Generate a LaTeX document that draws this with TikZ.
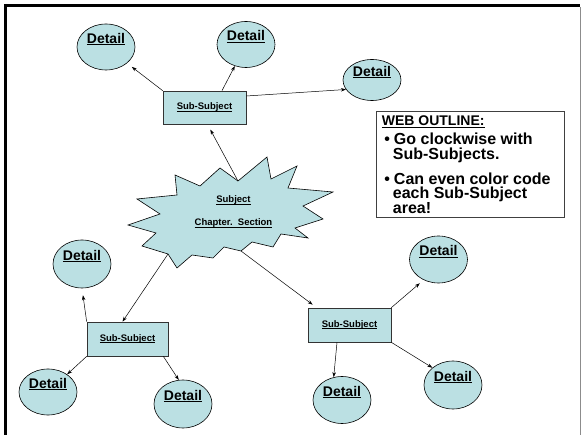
\documentclass[tikz,border=0pt]{standalone}
\usepackage{fontspec}
\setmainfont{Liberation Sans}
\usepackage{tikz}
\usetikzlibrary{shapes.geometric,arrows.meta}
\definecolor{webfill}{RGB}{187,224,227}
\newcommand\undl[1]{\leavevmode\setbox0=\hbox{#1}\rlap{\rule[-0.14em]{\wd0}{0.08em}}\box0}

\begin{document}
\begin{tikzpicture}[x=1pt,y=-1pt,>={Stealth[length=5pt,width=3.5pt]},
    detail/.style={ellipse,draw,fill=webfill,line width=0.6pt,minimum width=58pt,minimum height=46pt,
      inner sep=0pt,text height=10pt,text depth=17pt,font=\fontsize{14}{16}\selectfont\bfseries},
    subsubject/.style={rectangle,draw=black!80,fill=webfill,line width=0.7pt,minimum width=83pt,
      minimum height=33pt,inner sep=0pt,font=\fontsize{9.5}{11}\selectfont\bfseries},
    link/.style={->,line width=0.5pt}]

    \useasboundingbox (0,0) rectangle (581,435);
    % slide frame
    \draw[line width=3pt] (4,5.5) -- (580,5.5);
    \draw[line width=3pt] (5.5,4) -- (5.5,435);
    \draw[black!45,line width=1pt] (580,7) -- (580,435);

    % subject burst
    \draw[fill=webfill,line width=0.6pt] (175,175) -- (200,186) -- (220,168) -- (238,181) -- (267,157)
      -- (271,179) -- (297,166) -- (288,188) -- (333,192) -- (303,206) -- (323,219) -- (295,228)
      -- (308,238) -- (281,234) -- (273,247) -- (252,242) -- (241,251) -- (224,247) -- (213,258)
      -- (192,255) -- (177,268) -- (168,254) -- (142,246) -- (156,233) -- (128,225) -- (160,214)
      -- (137,199) -- (177,195) -- cycle;
    \coordinate (st1) at (238,181);
    \coordinate (st2) at (168,254);
    \coordinate (st3) at (241,251);
    \node[font=\fontsize{9.5}{23}\selectfont\bfseries,align=center] (subj) at (233.5,212)
      {\undl{Subject}\\\undl{Chapter.\ \ Section}};

    % sub-subjects
    \node[subsubject] (s1) at (204.5,107.5) {\undl{Sub-Subject}};
    \node[subsubject,minimum width=81pt,minimum height=34pt] (s2) at (127.5,339) {\undl{Sub-Subject}};
    \node[subsubject,minimum height=34pt] (s3) at (349.5,325) {\undl{Sub-Subject}};

    % details
    \node[detail] (d1) at (106,47) {\undl{Detail}};
    \node[detail] (d2) at (246,44.5) {\undl{Detail}};
    \node[detail,minimum height=41pt] (d3) at (372,80) {\undl{Detail}};
    \node[detail,minimum height=48pt] (d4) at (82,264) {\undl{Detail}};
    \node[detail] (d5) at (48,392) {\undl{Detail}};
    \node[detail,minimum height=48pt] (d6) at (183,404) {\undl{Detail}};
    \node[detail,minimum height=47pt] (d7) at (438.5,259.5) {\undl{Detail}};
    \node[detail,minimum height=47pt] (d8) at (342,400) {\undl{Detail}};
    \node[detail,minimum height=48pt] (d9) at (453,385) {\undl{Detail}};

    % outline box
    \node[draw=black!75,line width=0.8pt,minimum width=188pt,minimum height=106pt,inner sep=0pt,
      anchor=north west] (outline) at (376,111) {};
    \node[anchor=north west,align=left,inner sep=0pt,
      font={\fontsize{16}{14.5}\selectfont\bfseries\lineskiplimit=-20pt}] (outlinetext)
      at ([xshift=5.7pt,yshift=-4.7pt]outline.north west)
      {{\fontsize{14}{14.5}\selectfont\undl{WEB OUTLINE:}}\\[4.8pt]
       \hspace*{2.5pt}\textbullet\hspace{4pt}Go clockwise with\\
       \hspace*{11pt}Sub-Subjects.\\[10.5pt]
       \hspace*{2.5pt}\textbullet\hspace{4pt}Can even color code\\
       \hspace*{11pt}each Sub-Subject\\
       \hspace*{11pt}area!};

    % connectors
    \draw[link,shorten >=6pt] (s1.north west) -- (d1);
    \draw[link] ([xshift=17.5pt]s1.north) -- (d2);
    \draw[link] ([yshift=11.5pt]s1.east) -- (d3.200);
    \draw[link,shorten >=6pt] (st1) -- ([xshift=3pt]s1.south);
    \draw[link] (st2) -- ([xshift=-5pt]s2.north);
    \draw[link,shorten >=5pt] (st3) -- ([xshift=9pt]s3.north west);
    \draw[link,shorten >=7pt] (s2.north west) -- (d4.south);
    \draw[link] (s2.south west) -- (d5);
    \draw[link] ([xshift=-5pt]s2.south east) -- (d6.100);
    \draw[link,shorten >=5pt] (s3.north east) -- (d7.234);
    \draw[link] ([xshift=-12.5pt]s3.south) -- (d8.110);
    \draw[link] (s3.south east) -- (d9.140);
\end{tikzpicture}
\end{document}
